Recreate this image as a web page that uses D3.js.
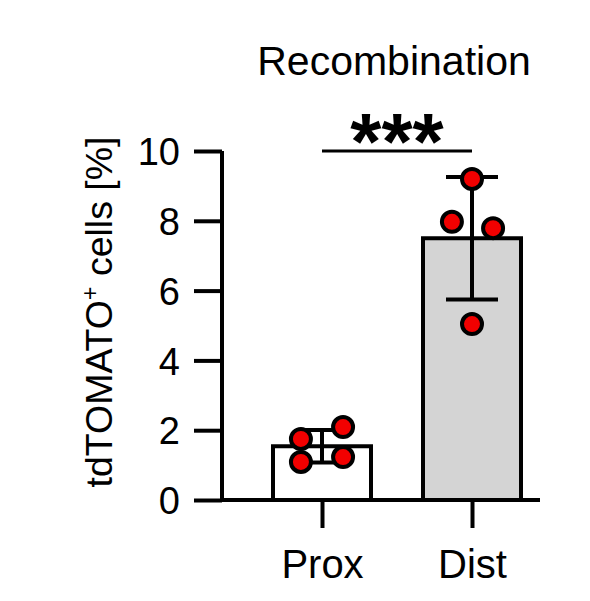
<!DOCTYPE html>
<html>
<head>
<meta charset="utf-8">
<script src="https://cdn.jsdelivr.net/npm/d3@7"></script>
<style>
  body { margin: 0; background: #fff; }
  svg text { font-family: "Liberation Sans", Arial, sans-serif; fill: #000; }
</style>
</head>
<body>
<div id="chart"></div>
<script>
// Values.
const groups = ["Prox", "Dist"];
const proxValues = [1.75, 2.09, 1.09, 1.23];
const distValues = [9.20, 7.97, 7.79, 5.04];
// Horizontal spread of the dots, as a fraction of the bar width.
const proxSpread = [-0.215, 0.215, -0.215, 0.215];
const distSpread = [0, -0.205, 0.215, 0];
const yTicks = [0, 2, 4, 6, 8, 10];
const title = "Recombination";
const significance = "***";

const width = 590, height = 601;
const barWidth = 98;

const series = [
    { group: groups[0], values: proxValues, spread: proxSpread, fill: "#ffffff" },
    { group: groups[1], values: distValues, spread: distSpread, fill: "#d4d4d4" }
];
series.forEach(d => {
    d.mean = d3.mean(d.values);
    d.sd = d3.deviation(d.values);
});

const svg = d3.select("#chart")
    .append("svg")
    .attr("width", width)
    .attr("height", height);

// Scales.
const x = d3.scalePoint()
    .domain(groups)
    .range([222, 572])
    .padding(2 / 3);

const y = d3.scaleLinear()
    .domain([0, 10])
    .range([500, 151]);

// Bars.
svg.selectAll(".bar")
    .data(series)
    .enter()
    .append("rect")
    .attr("class", "bar")
    .attr("x", d => x(d.group) - barWidth / 2)
    .attr("width", barWidth)
    .attr("y", d => y(d.mean))
    .attr("height", d => y(0) - y(d.mean))
    .attr("fill", d => d.fill)
    .attr("stroke", "#000")
    .attr("stroke-width", 4);

// Error bars (mean +/- SD).
const err = svg.selectAll(".err")
    .data(series)
    .enter()
    .append("g")
    .attr("class", "err")
    .attr("stroke", "#000")
    .attr("stroke-width", 4);

err.append("line")
    .attr("x1", d => x(d.group))
    .attr("x2", d => x(d.group))
    .attr("y1", d => y(d.mean + d.sd))
    .attr("y2", d => y(d.mean - d.sd));

[1, -1].forEach(sign => {
    err.append("line")
        .attr("x1", d => x(d.group) - 26)
        .attr("x2", d => x(d.group) + 26)
        .attr("y1", d => y(d.mean + sign * d.sd))
        .attr("y2", d => y(d.mean + sign * d.sd));
});

// Individual points.
const points = series.flatMap(d => d.values.map((v, i) => ({
    group: d.group, value: v, dx: d.spread[i] * barWidth
})));

svg.selectAll(".dot")
    .data(points)
    .enter()
    .append("circle")
    .attr("class", "dot")
    .attr("cx", d => x(d.group) + d.dx)
    .attr("cy", d => y(d.value))
    .attr("r", 10)
    .attr("fill", "#f20000")
    .attr("stroke", "#000")
    .attr("stroke-width", 4);

// Y axis.
const yAxis = svg.append("g")
    .attr("transform", "translate(222,0)")
    .call(d3.axisLeft(y)
        .tickValues(yTicks)
        .tickSize(28)
        .tickSizeOuter(0)
        .tickPadding(14));
yAxis.select(".domain")
    .attr("stroke-width", 4)
    .attr("d", `M0,${y(0) + 2}V${y(10)}`);
yAxis.selectAll(".tick line").attr("stroke-width", 4);
yAxis.selectAll(".tick text")
    .style("font-size", "38px")
    .attr("dy", "0.36em");

// X axis.
const xAxis = svg.append("g")
    .attr("transform", `translate(0,${y(0)})`)
    .call(d3.axisBottom(x)
        .tickSize(28)
        .tickSizeOuter(0)
        .tickPadding(14));
xAxis.select(".domain")
    .attr("stroke-width", 4)
    .attr("d", "M220,0H540");
xAxis.selectAll(".tick line").attr("stroke-width", 4);
xAxis.selectAll(".tick text")
    .style("font-size", "40px")
    .attr("dy", "0.9em");

// Y axis title.
const yLabel = svg.append("text")
    .attr("transform", "translate(112,312) rotate(-90)")
    .attr("text-anchor", "middle")
    .style("font-size", "37.5px");
yLabel.append("tspan").text("tdTOMATO");
yLabel.append("tspan").text("+").style("font-size", "23px").attr("dy", -14);
yLabel.append("tspan").text(" cells [%]").attr("dy", 14);

// Chart title.
svg.append("text")
    .attr("x", 394)
    .attr("y", 75)
    .attr("text-anchor", "middle")
    .style("font-size", "41px")
    .text(title);

// Significance bracket.
svg.append("line")
    .attr("x1", x(groups[0]))
    .attr("x2", x(groups[1]))
    .attr("y1", 151)
    .attr("y2", 151)
    .attr("stroke", "#000")
    .attr("stroke-width", 3);

svg.append("text")
    .attr("x", (x(groups[0]) + x(groups[1])) / 2)
    .attr("y", 169)
    .attr("text-anchor", "middle")
    .style("font-size", "80px")
    .style("font-weight", "bold")
    .text(significance);
</script>
</body>
</html>
